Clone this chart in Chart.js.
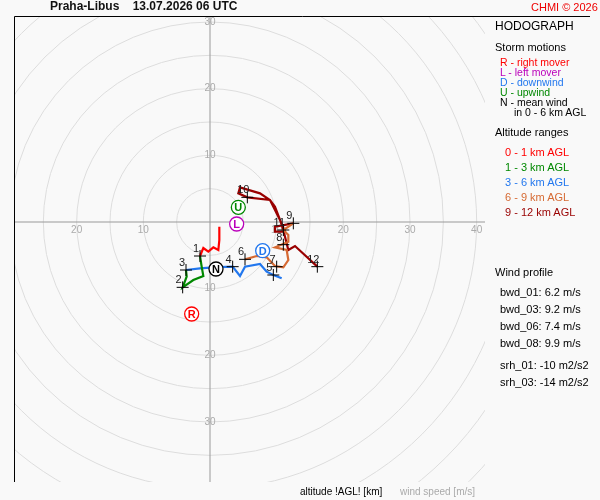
<!DOCTYPE html>
<html><head><meta charset="utf-8">
<script src="https://cdn.jsdelivr.net/npm/chart.js@4/dist/chart.umd.min.js"></script>
<style>
body{margin:0;background:#fff;font-family:"Liberation Sans",Arial,sans-serif}
#wrap{position:relative;width:600px;height:500px;background:#f9f9f9}
.t{position:absolute;white-space:nowrap;font-size:11px;line-height:12px}
.s{font-size:10.5px;line-height:10px}
</style></head><body>
<div id="wrap">
<canvas id="c" width="600" height="500"></canvas>
<div class="t" style="left:50px;top:0px;font-size:12px;font-weight:bold;color:#111">Praha-Libus &nbsp;&nbsp; 13.07.2026 06 UTC</div>
<div class="t" style="left:531px;top:1px;font-size:11px;color:#e00">CHMI © 2026</div>
<div class="t" style="left:495px;top:20px;font-size:12px">HODOGRAPH</div>
<div class="t" style="left:495px;top:41px">Storm motions</div>
<div class="t s" style="left:500px;top:57px;color:#f00">R - right mover</div>
<div class="t s" style="left:500px;top:67px;color:#b0b">L - left mover</div>
<div class="t s" style="left:500px;top:77px;color:#27e">D - downwind</div>
<div class="t s" style="left:500px;top:87px;color:#080">U - upwind</div>
<div class="t s" style="left:500px;top:97px">N - mean wind</div>
<div class="t s" style="left:514px;top:107px">in 0 - 6 km AGL</div>
<div class="t" style="left:495px;top:126px">Altitude ranges</div>
<div class="t" style="left:505px;top:146px;color:#f00">0 - 1 km AGL</div>
<div class="t" style="left:505px;top:161px;color:#080">1 - 3 km AGL</div>
<div class="t" style="left:505px;top:176px;color:#27e">3 - 6 km AGL</div>
<div class="t" style="left:505px;top:191px;color:#d66a33">6 - 9 km AGL</div>
<div class="t" style="left:505px;top:206px;color:#900">9 - 12 km AGL</div>
<div class="t" style="left:495px;top:266px">Wind profile</div>
<div class="t" style="left:500px;top:286px">bwd_01: 6.2 m/s</div>
<div class="t" style="left:500px;top:303px">bwd_03: 9.2 m/s</div>
<div class="t" style="left:500px;top:320px">bwd_06: 7.4 m/s</div>
<div class="t" style="left:500px;top:337px">bwd_08: 9.9 m/s</div>
<div class="t" style="left:500px;top:359px">srh_01: -10 m2/s2</div>
<div class="t" style="left:500px;top:376px">srh_03: -14 m2/s2</div>
<div class="t" style="left:300px;top:486px;font-size:10px">altitude !AGL! [km]</div>
<div class="t" style="left:400px;top:486px;font-size:10px;color:#aaa">wind speed [m/s]</div>
</div>
<script>
// wind components (u, v) in m/s
const layer01 = [[1.4,-0.7],[1.4,-2.7],[1.25,-4.2],[0.5,-3.8],[-0.25,-4.45],[-1.0,-3.9],[-1.5,-5.1]];
const layer13 = [[-1.5,-5.1],[-1.25,-6.7],[-1.0,-8.1],[-2.5,-8.7],[-4.1,-9.8],[-3.5,-8.2],[-3.6,-7.2]];
const layer36 = [[-3.6,-7.2],[-1.5,-6.95],[0.5,-6.8],[3.4,-6.7],[4.5,-8.1],[5.25,-6.7],[7.5,-6.3],[8.5,-7.45],[9.5,-7.95],[10.75,-8.45]];
const layer69 = [[5.25,-5.6],[7.0,-5.1],[8.5,-5.3],[9.75,-6.6],[11.0,-6.8],[11.75,-5.7],[11.5,-4.2],[9.75,-3.8],[11.75,-2.95],[11.75,-1.95],[11.0,-1.2],[12.5,-0.2]];
const layer912 = [[12.5,-0.2],[9.75,-0.7],[9.75,-1.45],[11.25,-1.45],[10.5,0.3],[9.75,2.3],[9.0,3.3],[7.5,4.3],[4.5,5.2],[4.25,4.3],[5.6,3.7],[9.0,3.3],[10.5,0.3],[11.0,-1.2],[11.25,-2.2],[11.75,-4.2],[12.75,-3.6],[16.1,-6.7]];
const levelLabels = ['1','2','3','4','5','6','7','8','9','10','11','12'];
const levelPoints = [[-1.5,-5.1],[-4.1,-9.8],[-3.6,-7.2],[3.4,-6.7],[9.5,-7.95],[5.25,-5.6],[10.0,-6.7],[11.0,-3.4],[12.5,-0.2],[5.6,3.7],[11.0,-1.2],[16.1,-6.7]];
const stormLabels = ['N','D','U','L','R'];
const stormPoints = [[0.9,-7.05],[7.9,-4.3],[4.25,2.2],[4.0,-0.3],[-2.75,-13.8]];
const stormColors = ['#000','#27e','#080','#b0b','#f00'];
const ringTicks = [10,20,30,40];

const xy = a => a.map(p => ({x:p[0], y:p[1]}));
const line = (d, c) => ({data: xy(d), showLine: true, borderColor: c, borderWidth: 2.2, pointRadius: 0, tension: 0});

const bg = {
  id: 'bg',
  beforeDatasetsDraw(ch) {
    const {ctx, chartArea: a, scales: {x, y}} = ch;
    const cx = x.getPixelForValue(0), cy = y.getPixelForValue(0);
    const k = x.getPixelForValue(1) - cx;
    ctx.save();
    ctx.beginPath(); ctx.rect(a.left, a.top, a.right - a.left, a.bottom - a.top); ctx.clip();
    ctx.strokeStyle = '#ddd'; ctx.lineWidth = 1;
    for (let r = 5; r <= 70; r += 5) { ctx.beginPath(); ctx.arc(cx, cy, r * k, 0, 2 * Math.PI); ctx.stroke(); }
    ctx.strokeStyle = '#999';
    ctx.beginPath(); ctx.moveTo(a.left, cy); ctx.lineTo(a.right, cy); ctx.moveTo(cx, a.top); ctx.lineTo(cx, a.bottom); ctx.stroke();
    ctx.fillStyle = '#aaa'; ctx.font = '10px "Liberation Sans"'; ctx.textAlign = 'center'; ctx.textBaseline = 'middle';
    ringTicks.forEach(t => {
      ctx.fillText(t, x.getPixelForValue(t), cy + 8);
      if (t < 30) ctx.fillText(t, x.getPixelForValue(-t), cy + 8);
      if (t <= 30) { ctx.fillText(t, cx, y.getPixelForValue(t)); ctx.fillText(t, cx, y.getPixelForValue(-t)); }
    });
    ctx.restore();
    ctx.save(); ctx.strokeStyle = '#000'; ctx.lineWidth = 1;
    ctx.beginPath(); ctx.moveTo(a.left + 0.5, a.bottom); ctx.lineTo(a.left + 0.5, a.top + 0.5); ctx.lineTo(590, a.top + 0.5); ctx.stroke();
    ctx.restore();
  },
  afterDatasetsDraw(ch) {
    const {ctx, scales: {x, y}} = ch;
    ctx.save();
    ctx.font = '11px "Liberation Sans"'; ctx.textAlign = 'center'; ctx.textBaseline = 'middle';
    levelPoints.forEach((p, i) => {
      const px = x.getPixelForValue(p[0]), py = y.getPixelForValue(p[1]);
      ctx.strokeStyle = '#000'; ctx.lineWidth = 1;
      ctx.beginPath(); ctx.moveTo(px - 6, py); ctx.lineTo(px + 6, py); ctx.moveTo(px, py - 6); ctx.lineTo(px, py + 6); ctx.stroke();
      ctx.fillStyle = '#222'; ctx.fillText(levelLabels[i], px - 4, py - 7);
    });
    ctx.font = 'bold 11px "Liberation Sans"';
    stormPoints.forEach((p, i) => {
      const px = x.getPixelForValue(p[0]), py = y.getPixelForValue(p[1]);
      ctx.fillStyle = '#fff'; ctx.strokeStyle = stormColors[i]; ctx.lineWidth = 1.3;
      ctx.beginPath(); ctx.arc(px, py, 7, 0, 2 * Math.PI); ctx.fill(); ctx.stroke();
      ctx.fillStyle = stormColors[i]; ctx.fillText(stormLabels[i], px, py + 1);
    });
    ctx.restore();
  }
};

new Chart(document.getElementById('c'), {
  type: 'scatter',
  data: { datasets: [
    line(layer01, '#f00'), line(layer13, '#080'), line(layer36, '#27e'),
    line(layer69, '#d66a33'), line(layer912, '#900')
  ]},
  options: {
    responsive: false, animation: false,
    layout: { padding: { left: 14, top: 16, right: 115, bottom: 18 } },
    plugins: { legend: { display: false }, tooltip: { enabled: false } },
    scales: {
      x: { type: 'linear', min: -29.4, max: 41.25, display: false },
      y: { type: 'linear', min: -39, max: 30.9, display: false }
    }
  },
  plugins: [bg]
});
</script>
</body></html>
